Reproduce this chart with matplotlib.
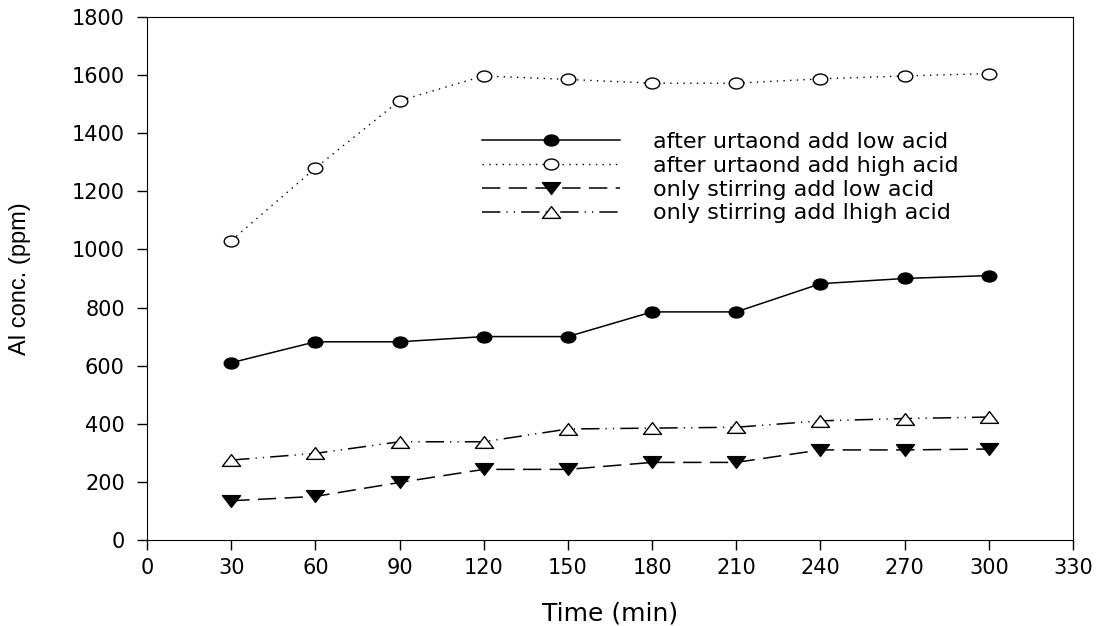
#Al concentration vs time chart

#import modules
import matplotlib
matplotlib.use("Agg")
import matplotlib.pyplot as plt
from matplotlib.path import Path
from matplotlib.transforms import Affine2D

#Data
time_min = [30, 60, 90, 120, 150, 180, 210, 240, 270, 300]
ultra_low = [610, 682, 682, 700, 700, 785, 785, 882, 900, 910]
ultra_high = [1030, 1280, 1512, 1597, 1585, 1572, 1572, 1587, 1597, 1605]
stir_low = [135, 150, 198, 243, 243, 267, 267, 310, 310, 313]
stir_high = [275, 298, 338, 338, 382, 385, 388, 410, 418, 423]

labels = ["after urtaond add low acid", "after urtaond add high acid",
          "only stirring add low acid", "only stirring add lhigh acid"]

plt.rcParams["font.family"] = ["DejaVu Sans"]

#the reference is a bit stretched sideways, so use wide markers
ellipse = Affine2D().scale(1.0, 0.75).transform_path(Path.unit_circle())
tri_down = Path([(-1, 0.65), (1, 0.65), (0, -0.65), (-1, 0.65)], closed=True)
tri_up = Path([(-1, -0.65), (1, -0.65), (0, 0.65), (-1, -0.65)], closed=True)

fig = plt.figure(figsize=(11.02, 6.26), dpi=100)
ax = fig.add_axes([0.1334, 0.1374, 0.8403, 0.8355])

ax.plot(time_min, ultra_low, color="black", linestyle="-", lw=1.1,
        marker=ellipse, markersize=10.5, markerfacecolor="black", label=labels[0])
ax.plot(time_min, ultra_high, color="black", linestyle=(0, (1, 3.8)), lw=1.0,
        marker=ellipse, markersize=10.5, markerfacecolor="white", label=labels[1])
ax.plot(time_min, stir_low, color="black", linestyle=(0, (12, 5.5)), lw=1.1,
        marker=tri_down, markersize=13, markerfacecolor="black", label=labels[2])
ax.plot(time_min, stir_high, color="black", linestyle=(0, (12, 4, 0.8, 4, 0.8, 4)), lw=1.1,
        marker=tri_up, markersize=13, markerfacecolor="white", label=labels[3])

ax.set_xlim(0, 330)
ax.set_ylim(0, 1800)
ax.set_xticks(range(0, 331, 30))
ax.set_yticks(range(0, 1801, 200))
ax.tick_params(direction="out", length=7, width=1, top=False, right=False, labelsize=15)
ax.tick_params(axis="y", pad=9)
ax.tick_params(axis="x", pad=6)

ax.set_xlabel("Time (min)", fontsize=18, labelpad=17)
ax.set_ylabel("Al conc. (ppm)", fontsize=17, labelpad=29,
              family=["Liberation Sans", "DejaVu Sans"])

ax.legend(loc="upper left", bbox_to_anchor=(0.362, 0.78), frameon=False,
          fontsize=16, handlelength=6.2, handletextpad=1.5, labelspacing=0.17,
          borderpad=0, borderaxespad=0)

fig.savefig("out.png", dpi=100)
